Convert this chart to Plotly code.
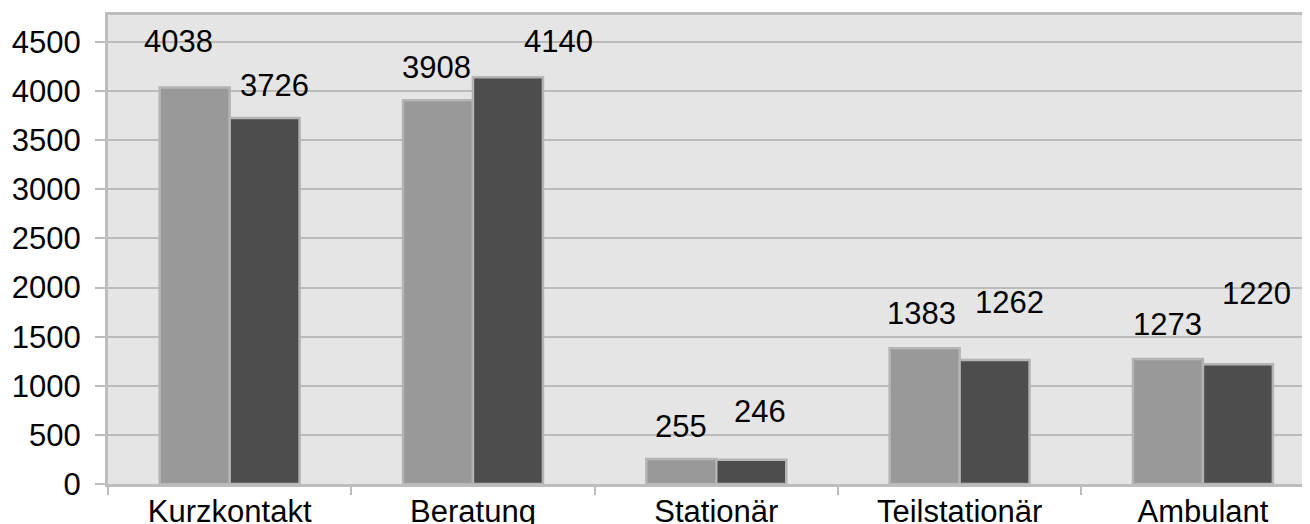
import plotly.graph_objects as go

categories = ["Kurzkontakt", "Beratung", "Stationär", "Teilstationär", "Ambulant"]
series_a = [4038, 3908, 255, 1383, 1273]
series_b = [3726, 4140, 246, 1262, 1220]
y_ticks = [0, 500, 1000, 1500, 2000, 2500, 3000, 3500, 4000, 4500]

# label placement offsets (pixels)
shift_a_x = [-51, -36, -35.5, -38, -35]
shift_a_y = [45.5, 33, 32, 35, 34]
shift_b_x = [45, 86, 43.5, 50, 54]
shift_b_y = [33, 35.5, 48, 58, 71]

FONT = "Liberation Sans, Arial, Helvetica, sans-serif"
border = "#bdbdbd"

fig = go.Figure()
fig.add_trace(go.Bar(x=categories, y=series_a, name="Serie 1",
                     marker=dict(color="#999999", line=dict(color="#b4b4b4", width=2.5))))
fig.add_trace(go.Bar(x=categories, y=series_b, name="Serie 2",
                     marker=dict(color="#4d4d4d", line=dict(color="#b4b4b4", width=2.5))))

annotations = []
for cat, v, sx, sy in zip(categories, series_a, shift_a_x, shift_a_y):
    annotations.append(dict(x=cat, y=v, text=str(v), showarrow=False, xshift=sx, yshift=sy,
                            xanchor="center", yanchor="middle",
                            font=dict(family=FONT, size=31, color="black")))
for cat, v, sx, sy in zip(categories, series_b, shift_b_x, shift_b_y):
    annotations.append(dict(x=cat, y=v, text=str(v), showarrow=False, xshift=sx, yshift=sy,
                            xanchor="center", yanchor="middle",
                            font=dict(family=FONT, size=31, color="black")))

# the page body adds an 8px offset, so the figure is 8px smaller than the window
fig.update_layout(
    width=1302, height=516,
    margin=dict(l=100, r=0, t=7, b=40),
    paper_bgcolor="white", plot_bgcolor="#e5e5e5",
    barmode="group", bargap=0.425, bargroupgap=0,
    showlegend=False,
    font=dict(family=FONT, size=31, color="black"),
    annotations=annotations,
    xaxis=dict(type="category", range=[-0.5, 4.44], tickson="boundaries", automargin=False,
               ticks="outside", ticklen=8, tickwidth=1.5, tickcolor=border,
               ticklabelstandoff=-2,
               showgrid=False, showline=True, linecolor=border, linewidth=3, mirror=True,
               tickfont=dict(family=FONT, size=31, color="black")),
    yaxis=dict(range=[0, 4775], tickvals=y_ticks, ticks="outside", ticklen=10, automargin=False,
               tickwidth=1.5, tickcolor=border, ticklabelstandoff=8,
               showgrid=True, gridcolor="#bbbbbb", gridwidth=1.5,
               showline=True, linecolor=border, linewidth=3, mirror=False, zeroline=False,
               tickfont=dict(family=FONT, size=31, color="black")),
)

fig.write_html("out.html")
